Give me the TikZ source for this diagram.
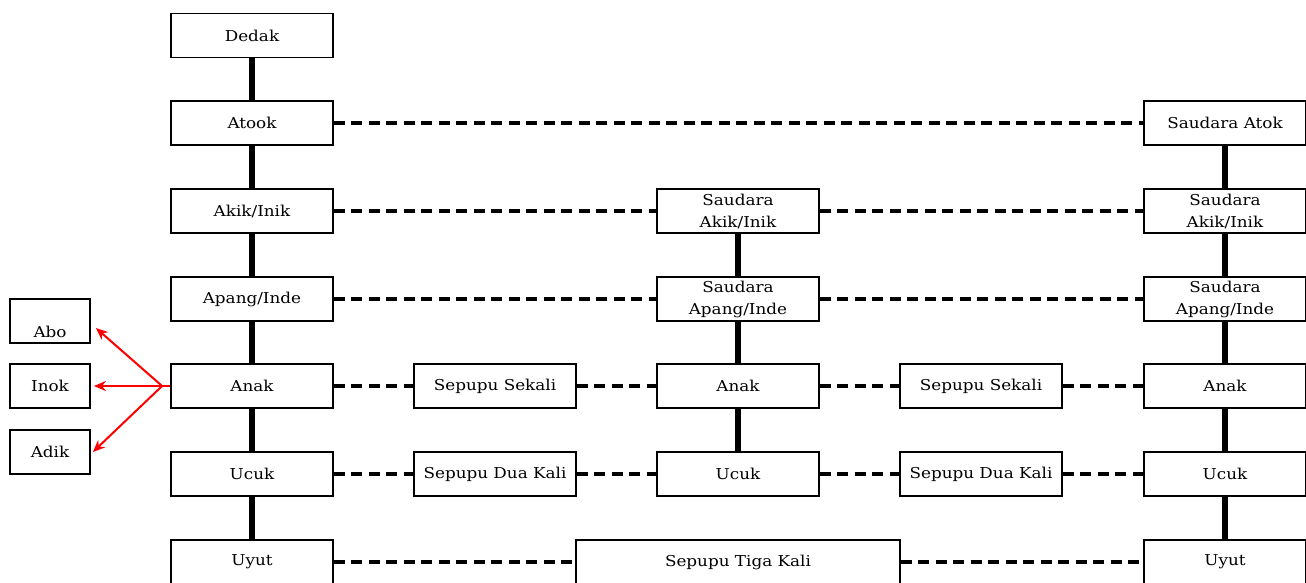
\documentclass[tikz,border=0pt]{standalone}
\usepackage{fontspec}
\setmainfont[FakeStretch=1.12]{DejaVu Serif}
\usetikzlibrary{arrows.meta}
\tikzset{
  box/.style={draw, line width=1.8pt, minimum width=162pt, minimum height=44pt,
    inner sep=0pt, align=center, font=\fontsize{15}{22}\selectfont},
  small/.style={box, minimum width=80pt},
  kin/.style={line width=5.5pt},
  sib/.style={line width=3.5pt, dash pattern=on 11pt off 6.5pt},
  point/.style={red, line width=2pt, -{Stealth[length=12pt,width=10pt]}}
}
\begin{document}
\begin{tikzpicture}[x=1pt,y=-1pt]
        \useasboundingbox (0,0) rectangle (1306,582);
        % own line
        \node[box] (dedak) at (252,35.5) {Dedak};
        \node[box] (atook) at (252,123) {Atook};
        \node[box] (akik) at (252,211) {Akik/Inik};
        \node[box] (apang) at (252,299) {Apang/Inde};
        \node[box] (anak) at (252,386) {Anak};
        \node[box] (ucuk) at (252,474) {Ucuk};
        \node[box] (uyut) at (252,562) {Uyut};
        % middle line
        \node[box] (sakik) at (738,211) {Saudara\\Akik/Inik};
        \node[box] (sapang) at (738,299) {Saudara\\Apang/Inde};
        \node[box] (anakb) at (738,386) {Anak};
        \node[box] (ucukb) at (738,474) {Ucuk};
        \node[box, minimum width=324pt] (tiga) at (738,562) {Sepupu Tiga Kali};
        % right line
        \node[box] (satok) at (1225,123) {Saudara Atok};
        \node[box] (sakikc) at (1225,211) {Saudara\\Akik/Inik};
        \node[box] (sapangc) at (1225,299) {Saudara\\Apang/Inde};
        \node[box] (anakc) at (1225,386) {Anak};
        \node[box] (ucukc) at (1225,474) {Ucuk};
        \node[box] (uyutc) at (1225,562) {Uyut};
        % cousins
        \node[box] (sekA) at (495,386) {Sepupu Sekali};
        \node[box] (duaA) at (495,474) {Sepupu Dua Kali};
        \node[box] (sekB) at (981,386) {Sepupu Sekali};
        \node[box] (duaB) at (981,474) {Sepupu Dua Kali};
        % left
        \node[small, text height=32pt, text depth=0pt] (abo) at (50,321) {Abo};
        \node[small] (inok) at (50,386) {Inok};
        \node[small] (adik) at (50,452) {Adik};
        \draw[kin] (dedak) -- (atook) -- (akik) -- (apang) -- (anak) -- (ucuk) -- (uyut);
        \draw[kin] (sakik) -- (sapang) -- (anakb) -- (ucukb);
        \draw[kin] (satok) -- (sakikc) -- (sapangc) -- (anakc) -- (ucukc) -- (uyutc);
        \draw[sib] (atook) -- (satok);
        \draw[sib] (akik) -- (sakik);
        \draw[sib] (sakik) -- (sakikc);
        \draw[sib] (apang) -- (sapang);
        \draw[sib] (sapang) -- (sapangc);
        \draw[sib] (anak) -- (sekA);
        \draw[sib] (sekA) -- (anakb);
        \draw[sib] (anakb) -- (sekB);
        \draw[sib] (sekB) -- (anakc);
        \draw[sib] (ucuk) -- (duaA);
        \draw[sib] (duaA) -- (ucukb);
        \draw[sib] (ucukb) -- (duaB);
        \draw[sib] (duaB) -- (ucukc);
        \draw[sib] (uyut) -- (tiga);
        \draw[sib] (tiga) -- (uyutc);
        \coordinate (fork) at ([xshift=-8pt]anak.west);
        \draw[red, line width=2pt] (anak.west) -- (fork);
        \draw[point] (fork) -- ([xshift=5pt,yshift=-7pt]abo.east);
        \draw[point] (fork) -- ([xshift=3pt]inok.east);
        \draw[point] (fork) -- ([xshift=2pt]adik.east);
\end{tikzpicture}
\end{document}
